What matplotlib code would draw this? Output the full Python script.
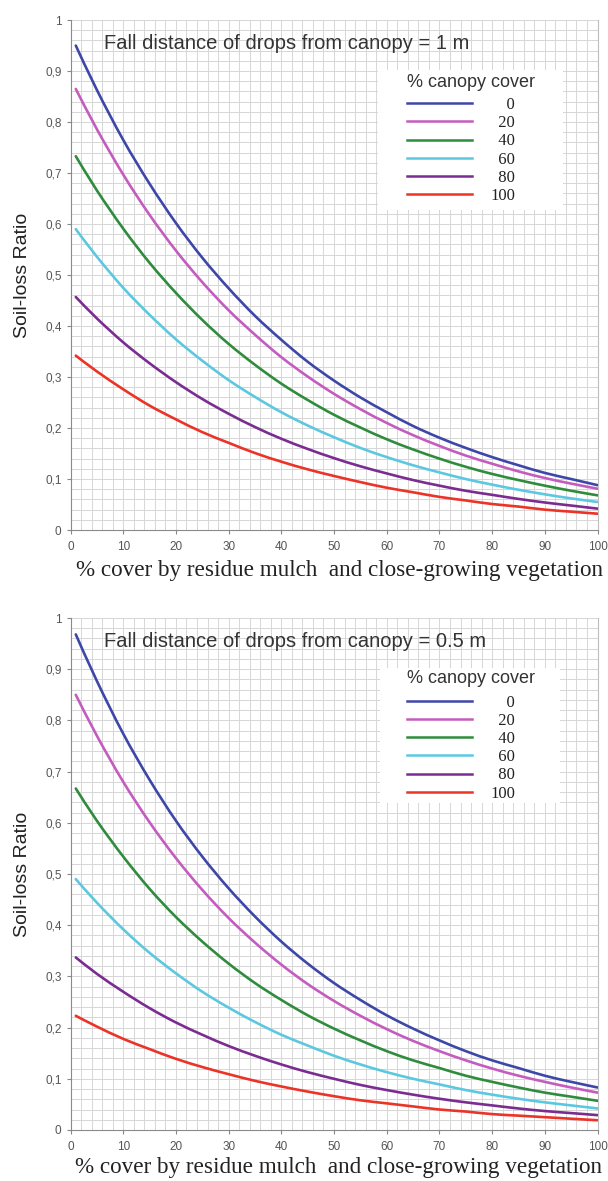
import matplotlib
matplotlib.use("Agg")
import matplotlib.pyplot as plt
from matplotlib.ticker import MultipleLocator, FuncFormatter
from matplotlib.path import Path
from matplotlib.patches import PathPatch, Rectangle
from matplotlib.lines import Line2D

# % cover by residue mulch (x) where values were read
cover = [1, 5, 10, 15, 20, 25, 30, 35, 40, 45, 50,
         55, 60, 65, 70, 75, 80, 85, 90, 95, 100]

canopy_labels = ["0", "20", "40", "60", "80", "100"]
colors = ["#3d47a8", "#c45cbf", "#2f8c3c", "#5cc8e0", "#7a2c91", "#ec3328"]

# fall distance 1 m
slr_1m = [
    [0.950, 0.863, 0.765, 0.679, 0.602, 0.534, 0.474, 0.420, 0.373, 0.330, 0.293,
     0.260, 0.231, 0.204, 0.181, 0.161, 0.143, 0.127, 0.112, 0.100, 0.088],
    [0.865, 0.786, 0.697, 0.618, 0.548, 0.486, 0.431, 0.383, 0.339, 0.301, 0.267,
     0.237, 0.210, 0.186, 0.165, 0.146, 0.130, 0.115, 0.102, 0.091, 0.081],
    [0.733, 0.666, 0.591, 0.524, 0.465, 0.412, 0.365, 0.324, 0.287, 0.255, 0.226,
     0.201, 0.178, 0.158, 0.140, 0.124, 0.110, 0.098, 0.087, 0.077, 0.068],
    [0.590, 0.536, 0.475, 0.422, 0.374, 0.332, 0.294, 0.261, 0.231, 0.205, 0.182,
     0.161, 0.143, 0.127, 0.113, 0.100, 0.089, 0.079, 0.070, 0.062, 0.055],
    [0.457, 0.415, 0.368, 0.327, 0.290, 0.257, 0.228, 0.202, 0.179, 0.159, 0.141,
     0.125, 0.111, 0.098, 0.087, 0.077, 0.069, 0.061, 0.054, 0.048, 0.042],
    [0.342, 0.311, 0.276, 0.244, 0.217, 0.192, 0.171, 0.151, 0.134, 0.119, 0.106,
     0.094, 0.083, 0.074, 0.065, 0.058, 0.051, 0.046, 0.040, 0.036, 0.032],
]

# fall distance 0.5 m
slr_05m = [
    [0.968, 0.877, 0.774, 0.684, 0.604, 0.534, 0.472, 0.417, 0.368, 0.325, 0.287,
     0.254, 0.224, 0.198, 0.175, 0.154, 0.136, 0.121, 0.106, 0.094, 0.083],
    [0.850, 0.770, 0.680, 0.601, 0.531, 0.469, 0.414, 0.366, 0.323, 0.285, 0.252,
     0.223, 0.197, 0.174, 0.154, 0.136, 0.120, 0.106, 0.094, 0.083, 0.073],
    [0.667, 0.604, 0.534, 0.471, 0.416, 0.368, 0.325, 0.287, 0.254, 0.224, 0.198,
     0.175, 0.154, 0.136, 0.121, 0.106, 0.094, 0.083, 0.073, 0.065, 0.057],
    [0.490, 0.444, 0.392, 0.346, 0.306, 0.270, 0.239, 0.211, 0.186, 0.165, 0.145,
     0.128, 0.113, 0.100, 0.089, 0.078, 0.069, 0.061, 0.054, 0.048, 0.042],
    [0.337, 0.305, 0.270, 0.238, 0.210, 0.186, 0.164, 0.145, 0.128, 0.113, 0.100,
     0.088, 0.078, 0.069, 0.061, 0.054, 0.048, 0.042, 0.037, 0.033, 0.029],
    [0.223, 0.202, 0.178, 0.158, 0.139, 0.123, 0.109, 0.096, 0.085, 0.075, 0.066,
     0.058, 0.052, 0.046, 0.040, 0.036, 0.031, 0.028, 0.025, 0.022, 0.019],
]

titles = ["Fall distance of drops from canopy = 1 m",
          "Fall distance of drops from canopy = 0.5 m"]
xlabel = "% cover by residue mulch  and close-growing vegetation"

plt.rcParams["font.family"] = ["Liberation Sans", "DejaVu Sans"]

fig = plt.figure(figsize=(6.08, 11.81), dpi=100)
ax1 = fig.add_axes([0.116, 0.5512, 0.8668, 0.4318])
ax2 = fig.add_axes([0.116, 0.0432, 0.8668, 0.4335])


def fmt(v, pos):
    if abs(v) < 1e-9:
        return "0"
    if abs(v - 1) < 1e-9:
        return "1"
    return f"{v:.1f}".replace(".", ",")


def smooth_path(xs, ys):
    # draw the read points as one smooth curve (Catmull-Rom as cubic Bezier)
    pts = list(zip(xs, ys))
    verts = [pts[0]]
    codes = [Path.MOVETO]
    n = len(pts)
    for i in range(n - 1):
        p0 = pts[max(i - 1, 0)]
        p1 = pts[i]
        p2 = pts[i + 1]
        p3 = pts[min(i + 2, n - 1)]
        c1 = (p1[0] + (p2[0] - p0[0]) / 6, p1[1] + (p2[1] - p0[1]) / 6)
        c2 = (p2[0] - (p3[0] - p1[0]) / 6, p2[1] - (p3[1] - p1[1]) / 6)
        verts += [c1, c2, p2]
        codes += [Path.CURVE4] * 3
    return Path(verts, codes)


setups = [(ax1, slr_1m, titles[0], (0.583, 0.627, 0.351, 0.275), 0.878, 0.849, 0.51, 5),
          (ax2, slr_05m, titles[1], (0.588, 0.639, 0.341, 0.263), 0.882, 0.850, 0.508, 3)]

for ax, data, title, box, ttl_y, leg_top, xl_x, xl_pad in setups:
    # white panel behind the legend
    ax.add_patch(Rectangle(box[:2], box[2], box[3], transform=ax.transAxes,
                           facecolor="white", edgecolor="none", zorder=1))

    for vals, c in zip(data, colors):
        ax.add_patch(PathPatch(smooth_path(cover, vals), facecolor="none",
                               edgecolor=c, lw=1.9, zorder=3, capstyle="round"))

    ax.set_xlim(0, 100)
    ax.set_ylim(0, 1)
    ax.xaxis.set_major_locator(MultipleLocator(10))
    ax.xaxis.set_minor_locator(MultipleLocator(2))
    ax.yaxis.set_major_locator(MultipleLocator(0.1))
    ax.yaxis.set_minor_locator(MultipleLocator(0.02))
    ax.yaxis.set_major_formatter(FuncFormatter(fmt))
    ax.grid(which="both", color="#d6d6d6", lw=0.7)
    ax.set_axisbelow(True)
    ax.tick_params(which="major", length=3, color="#888888", labelcolor="#555555",
                   labelsize=8.5, width=0.8)
    ax.tick_params(axis="x", which="major", pad=5)
    ax.tick_params(which="minor", length=0)
    for s in ["left", "bottom"]:
        ax.spines[s].set_color("#8a8a8a")
    ax.spines["top"].set_visible(False)
    ax.spines["right"].set_color("#bdbdbd")

    ax.text(0.063, 0.955, title, transform=ax.transAxes, fontsize=14.5,
            color="#333333", va="center", ha="left")

    # legend
    ax.text(0.6385, ttl_y, "% canopy cover", transform=ax.transAxes,
            fontsize=13, color="#333333", va="center", ha="left", zorder=4)
    handles = [Line2D([], [], color=c, lw=1.8) for c in colors]
    labels = [" " * (2 * (3 - len(l))) + l for l in canopy_labels]
    leg = ax.legend(handles, labels, loc="upper left",
                    bbox_to_anchor=(0.6385, leg_top), frameon=False,
                    handlelength=3.9, handletextpad=1.1, labelspacing=0.13,
                    borderpad=0, borderaxespad=0,
                    prop={"family": "Liberation Serif", "size": 12})
    for t in leg.get_texts():
        t.set_color("#222222")

    ax.set_ylabel("Soil-loss Ratio", fontsize=14, color="#222222", labelpad=10)
    ax.set_xlabel(xlabel, family="Liberation Serif", fontsize=16.7, color="#222222",
                  labelpad=xl_pad)
    ax.xaxis.label.set_x(xl_x)

fig.savefig("out.png", dpi=100)
